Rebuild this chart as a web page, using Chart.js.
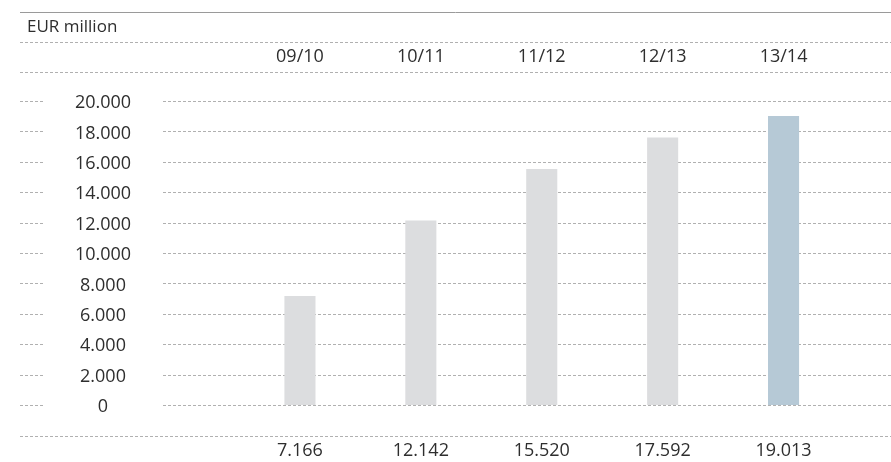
<!DOCTYPE html>
<html>
<head>
<meta charset="utf-8">
<script src="https://cdn.jsdelivr.net/npm/chart.js@4"></script>
<style>
  html, body { margin: 0; padding: 0; background: #fff; }
  #chart { display: block; }
</style>
</head>
<body>
<canvas id="chart" width="891" height="462"></canvas>
<script>
// data
const categories = ['09/10', '10/11', '11/12', '12/13', '13/14'];
const revenue = [7166, 12142, 15520, 17592, 19013];
const yTicks = [0, 2000, 4000, 6000, 8000, 10000, 12000, 14000, 16000, 18000, 20000];
const unitLabel = 'EUR million';

// German style thousands separator
function fmt(v) {
    return String(v).replace(/\B(?=(\d{3})+(?!\d))/g, '.');
}

const textColor = '#2e2e2e';
const lineColor = '#b0b0b0';
const font = '"Open Sans", sans-serif';

// lines and labels around the plot
const frame = {
    id: 'frame',
    beforeDatasetsDraw(chart) {
        const ctx = chart.ctx;
        const y = chart.scales.y;
        const W = chart.width;
        ctx.save();
        // solid top rule
        ctx.strokeStyle = '#9a9a9a';
        ctx.lineWidth = 1;
        ctx.beginPath();
        ctx.moveTo(20, 12.5);
        ctx.lineTo(W, 12.5);
        ctx.stroke();

        ctx.strokeStyle = lineColor;
        ctx.setLineDash([3, 2]);
        [42.5, 72.5, 436.5].forEach(py => {
            ctx.beginPath();
            ctx.moveTo(20, py);
            ctx.lineTo(W, py);
            ctx.stroke();
        });
        yTicks.forEach(t => {
            const py = Math.round(y.getPixelForValue(t)) + 0.5;
            ctx.beginPath();
            ctx.moveTo(20, py);
            ctx.lineTo(43, py);
            ctx.moveTo(163, py);
            ctx.lineTo(W, py);
            ctx.stroke();
        });
        ctx.restore();
    },
    afterDraw(chart) {
        const ctx = chart.ctx;
        const x = chart.scales.x;
        const y = chart.scales.y;
        ctx.save();
        ctx.fillStyle = textColor;
        ctx.textBaseline = 'middle';

        ctx.font = '17px ' + font;
        ctx.textAlign = 'left';
        ctx.fillText(unitLabel, 27, 27);

        ctx.font = '18px ' + font;
        ctx.textAlign = 'center';
        categories.forEach((c, i) => {
            ctx.fillText(c, x.getPixelForValue(i), 57);
        });
        revenue.forEach((v, i) => {
            ctx.fillText(fmt(v), x.getPixelForValue(i), 451);
        });
        yTicks.forEach(t => {
            ctx.fillText(fmt(t), 103, y.getPixelForValue(t) + 2);
        });
        ctx.restore();
    }
};

const ctx = document.getElementById('chart').getContext('2d');

new Chart(ctx, {
    type: 'bar',
    data: {
        labels: categories,
        datasets: [{
            data: revenue,
            backgroundColor: revenue.map((v, i) => i === revenue.length - 1 ? '#b6c9d6' : '#dcdddf'),
            borderWidth: 0,
            categoryPercentage: 1,
            barPercentage: 0.257
        }]
    },
    options: {
        responsive: false,
        devicePixelRatio: 1,
        animation: false,
        layout: {
            padding: { left: 239.5, right: 47, top: 101, bottom: 57 }
        },
        plugins: {
            legend: { display: false },
            tooltip: { enabled: false }
        },
        scales: {
            x: { display: false },
            y: { display: false, min: 0, max: 20000 }
        }
    },
    plugins: [frame]
});
</script>
</body>
</html>
